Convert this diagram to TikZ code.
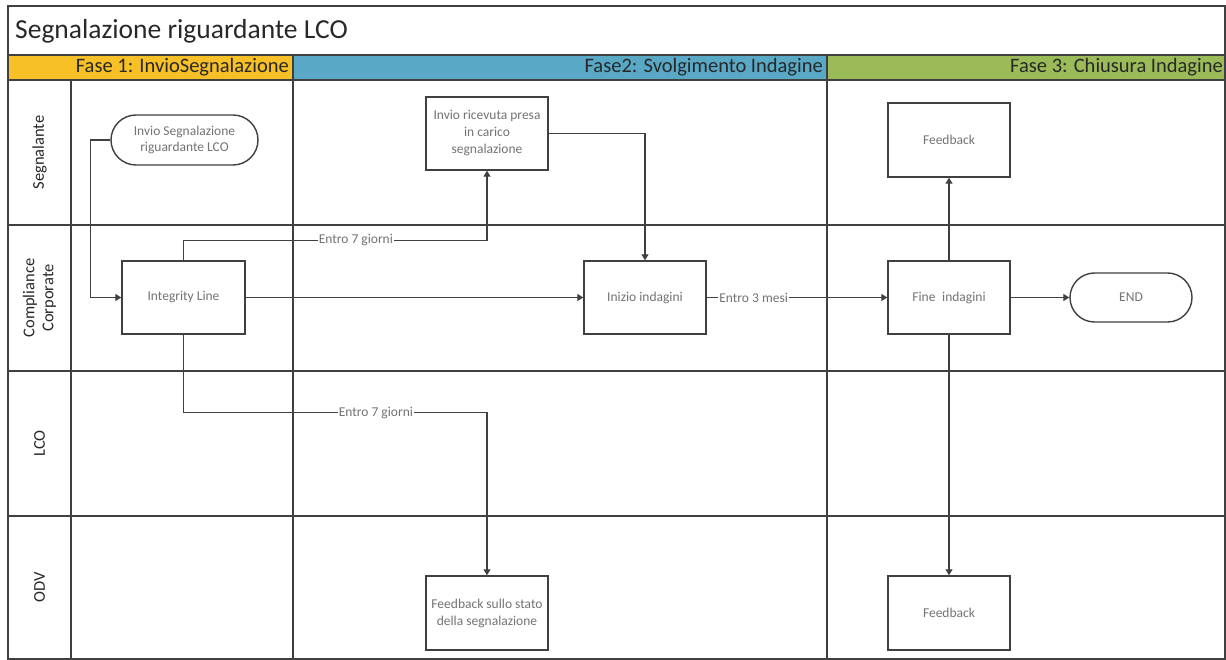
\documentclass[tikz,border=0pt]{standalone}
\usepackage{fontspec}
\setmainfont{Carlito}
\usetikzlibrary{arrows.meta}
\definecolor{phone}{RGB}{246,192,38}
\definecolor{phtwo}{RGB}{88,168,198}
\definecolor{phthree}{RGB}{155,187,89}
\definecolor{gridc}{RGB}{64,64,64}
\definecolor{ntext}{RGB}{115,115,115}
\definecolor{htext}{RGB}{40,40,40}
\begin{document}
\begin{tikzpicture}[x=1pt,y=-1pt,
  gridline/.style={draw=gridc,line width=1.6pt},
  proc/.style={draw=gridc, line width=1.4pt, fill=white, minimum width=122pt, minimum height=73pt,
    inner sep=2pt, align=center, font=\fontsize{13.5}{17}\selectfont, text=ntext},
  term/.style={proc, rounded corners=24.5pt, minimum height=49pt},
  conn/.style={draw=gridc, line width=1.2pt, -{Triangle[length=6pt,width=7pt]}},
  lbl/.style={fill=white, inner sep=1pt, font=\fontsize{13.5}{15}\selectfont, text=ntext},
  phase/.style={font=\fontsize{20.5}{22}\selectfont, text=htext, anchor=east, inner sep=0pt},
  lane/.style={font=\fontsize{16.5}{19}\selectfont, text=htext, rotate=90, align=center, inner sep=0pt},
]
\useasboundingbox[fill=white] (0,0) rectangle (1226,660);
% header fills
\fill[phone] (8,55) rectangle (293,80);
\fill[phtwo] (293,55) rectangle (827,80);
\fill[phthree] (827,55) rectangle (1225,80);
% grid
\draw[gridline] (8,6) rectangle (1225,659);
\foreach \yy in {55,80,225,371,516} \draw[gridline] (8,\yy) -- (1225,\yy);
\draw[gridline] (71,80) -- (71,659);
\draw[gridline] (293,55) -- (293,659);
\draw[gridline] (827,55) -- (827,659);
% title and headers
\node[anchor=west, inner sep=0pt, font=\fontsize{27.5}{30}\selectfont, text=htext] (title) at (15,31) {Segnalazione riguardante LCO};
\node[phase] (p1) at (289,67.5) {Fase 1: InvioSegnalazione};
\node[phase] (p2) at (823,67.5) {Fase2: Svolgimento Indagine};
\node[phase] (p3) at (1223,67.5) {Fase 3: Chiusura Indagine};
% lane labels
\node[lane] (l1) at (39.5,152.5) {Segnalante};
\node[lane] (l2) at (39.5,298) {Compliance\\Corporate};
\node[lane] (l3) at (39.5,443.5) {LCO};
\node[lane] (l4) at (39.5,587.5) {ODV};
% nodes
\node[term, minimum width=147pt, minimum height=50pt, rounded corners=25pt, font=\fontsize{13.5}{15.5}\selectfont] (start) at (184.5,140) {Invio Segnalazione\\riguardante LCO};
\node[proc, minimum width=123pt] (il) at (183.5,297.5) {Integrity Line};
\node[proc] (ric) at (487,133.5) {Invio ricevuta presa\\in carico\\segnalazione};
\node[proc] (ini) at (645,297.5) {Inizio indagini};
\node[proc] (fin) at (949,297.5) {Fine\enspace indagini};
\node[term] (endn) at (1131,297.5) {END};
\node[proc, minimum height=74pt] (fb1) at (949,140) {Feedback};
\node[proc, minimum height=74pt] (fbs) at (487,613) {Feedback sullo stato\\della segnalazione};
\node[proc, minimum height=74pt] (fb2) at (949,613) {Feedback};
% connectors
\draw[conn] (start.west) -- ++(-20,0) |- (il.west);
\draw[conn] (il.north) -- ++(0,-20) -| node[lbl, pos=0.284] {Entro 7 giorni} (ric.south);
\draw[conn] (il.east) -- (ini.west);
\draw[conn] (ric.east) -| (ini.north);
\draw[conn] (ini.east) -- node[lbl, pos=0.26] {Entro 3 mesi} (fin.west);
\draw[conn] (fin.east) -- (endn.west);
\draw[conn] (fin.north) -- (fb1.south);
\draw[conn] (fin.south) -- (fb2.north);
\draw[conn] (il.south) -- ++(0,78) -| node[lbl, pos=0.317] {Entro 7 giorni} (fbs.north);
\end{tikzpicture}
\end{document}
